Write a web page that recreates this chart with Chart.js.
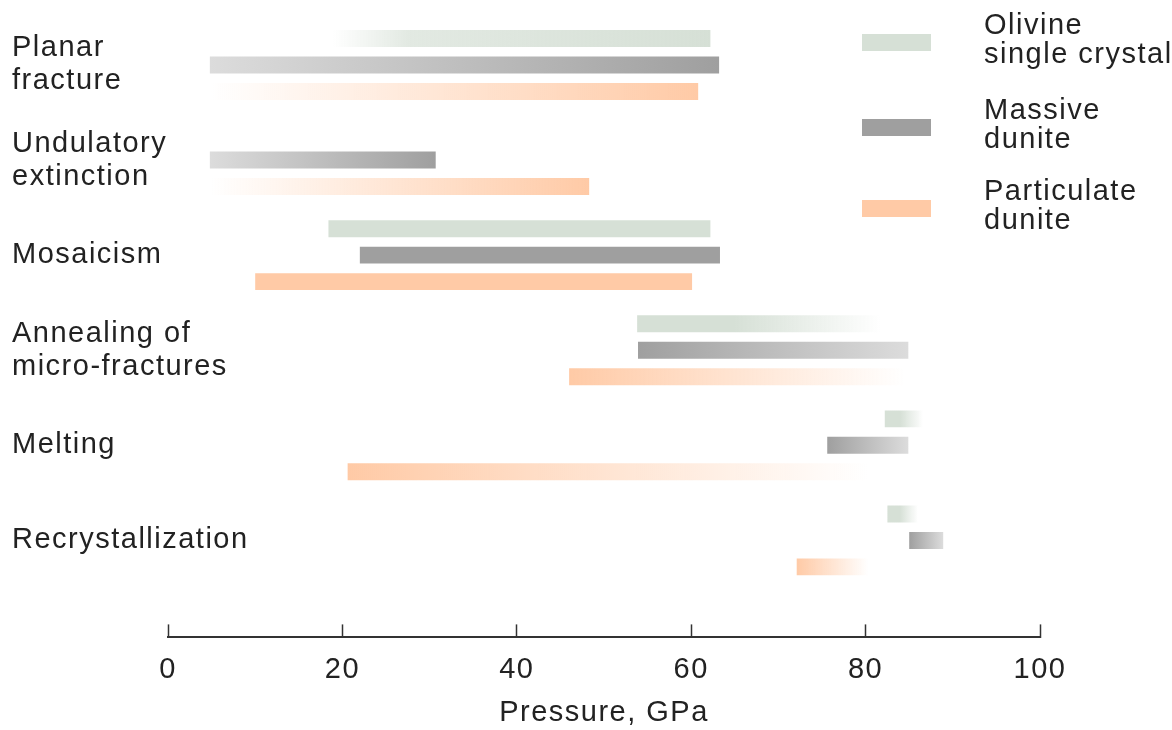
<!DOCTYPE html>
<html>
<head>
<meta charset="utf-8">
<title>Shock features vs pressure</title>
<script src="https://cdn.jsdelivr.net/npm/chart.js@4/dist/chart.umd.min.js"></script>
<style>
  html, body { margin: 0; padding: 0; background: #fff; overflow: hidden; }
  #wrap { position: relative; width: 1172px; height: 730px; }
  #legend { position: absolute; left: 0; top: 0; }
  .item { position: absolute; left: 862px; }
  .item .box { position: absolute; left: 0; width: 69px; height: 17px; }
  .item .txt {
    position: absolute; left: 122px; white-space: nowrap;
    font: 29px 'Liberation Sans', Arial, sans-serif; line-height: 29px;
    letter-spacing: 1.5px; color: #222;
  }
</style>
</head>
<body>
<div id="wrap">
  <canvas id="chart"></canvas>
  <div id="legend"></div>
</div>
<script>
// categories (top to bottom) and x ticks
const categories = [['Planar', 'fracture'], ['Undulatory', 'extinction'], 'Mosaicism',
  ['Annealing of', 'micro-fractures'], 'Melting', 'Recrystallization'];
const xTicks = [0, 20, 40, 60, 80, 100];

// pressure ranges, GPa  (null = no bar)
const olivine     = [[18.9, 62.2], null,         [18.4, 62.2], [53.8, 81.7], [82.2, 86.6], [82.5, 86.0]];
const massive     = [[4.8, 63.2],  [4.8, 30.7],  [22.0, 63.3], [53.9, 84.9], [75.6, 84.9], [85.0, 88.9]];
const particulate = [[4.8, 60.8],  [4.8, 48.3],  [10.0, 60.1], [46.0, 84.5], [20.6, 80.3], [72.1, 80.3]];

// 1 = gets stronger to the right, -1 = fades out to the right, 0 = flat
const olivineFade     = [1, 0, 0, -1, -1, -1];
const massiveFade     = [1, 1, 0, -1, -1, -1];
const particulateFade = [1, 1, 0, -1, -1, -1];

const seriesNames = [['Olivine', 'single crystal'], ['Massive', 'dunite'], ['Particulate', 'dunite']];

const FONT = "'Liberation Sans', Arial, sans-serif";
const TEXT = '#222';

function toPoints(ranges) {
  return ranges.map((r, i) => r ? { y: i, x: r } : null).filter(p => p);
}

// s.hold: part of a fading bar that keeps the full colour
function barFill(s) {
  return (ctx) => {
    if (ctx.type !== 'data' || !ctx.raw) return s.color;
    const f = s.fades[ctx.raw.y];
    if (!f) return s.color;
    const xs = ctx.chart.scales.x;
    const x0 = xs.getPixelForValue(ctx.raw.x[0]);
    const x1 = xs.getPixelForValue(ctx.raw.x[1]);
    if (!isFinite(x0) || !isFinite(x1) || x0 === x1) return s.color;
    const g = ctx.chart.ctx.createLinearGradient(x0, 0, x1, 0);
    if (f > 0) {
      g.addColorStop(0, s.pale);
      if (s.mid) g.addColorStop(0.2, s.mid);
      g.addColorStop(1, s.color);
    } else {
      g.addColorStop(0, s.color);
      g.addColorStop(s.hold, s.color);
      g.addColorStop(1, s.pale);
    }
    return g;
  };
}

const series = [
  { data: olivine, fades: olivineFade, color: '#d6e0d6', mid: 'rgba(214,224,214,0.7)', pale: 'rgba(214,224,214,0)', hold: 0.4 },
  { data: massive, fades: massiveFade, color: '#9f9f9f', pale: '#dcdcdc', hold: 0 },
  { data: particulate, fades: particulateFade, color: '#ffcaa6', pale: 'rgba(255,202,166,0)', hold: 0 }
];

// spaced-out lettering like the original figure
const spacing = {
  id: 'spacing',
  beforeLayout(chart) { chart.ctx.letterSpacing = '1.5px'; },
  beforeDraw(chart) { chart.ctx.letterSpacing = '1.5px'; }
};

new Chart(document.getElementById('chart'), {
  type: 'bar',
  data: {
    datasets: series.map((s, i) => ({
      label: seriesNames[i].join(' '),
      data: toPoints(s.data),
      backgroundColor: barFill(s),
      borderWidth: 0,
      categoryPercentage: 0.835,
      barPercentage: 0.64
    }))
  },
  options: {
    indexAxis: 'y',
    responsive: true,
    maintainAspectRatio: false,
    animation: false,
    layout: { padding: { left: 12, right: 132, top: 17.4, bottom: 0 } },
    plugins: { legend: { display: false }, tooltip: { enabled: false } },
    scales: {
      x: {
        type: 'linear', min: 0, max: 100, position: 'bottom',
        afterBuildTicks: s => { s.ticks = xTicks.map(v => ({ value: v })); },
        grid: { drawOnChartArea: false, drawTicks: true, tickLength: -13, tickColor: '#333', tickWidth: 1.5 },
        border: { display: true, color: '#333', width: 2 },
        ticks: { padding: 28, color: TEXT, font: { size: 29, family: FONT } },
        title: {
          display: true, text: 'Pressure, GPa', color: TEXT,
          font: { size: 29, family: FONT }, padding: { top: -20, bottom: 0 }
        }
      },
      y: {
        type: 'linear', reverse: true, min: -0.5, max: 6.02, position: 'left', offset: false,
        afterBuildTicks: s => { s.ticks = categories.map((c, i) => ({ value: i })); },
        afterFit: s => { s.width = 156; },
        grid: { display: false },
        border: { display: false },
        ticks: {
          autoSkip: false, mirror: true, padding: -156, color: TEXT,
          font: { size: 29, family: FONT, lineHeight: 1.14 },
          callback: v => categories[v]
        }
      }
    }
  },
  plugins: [spacing]
});

// legend, laid over the top right of the plot
const legendTops = [10, 95, 176];
const legend = document.getElementById('legend');
series.forEach((s, i) => {
  const item = document.createElement('div');
  item.className = 'item';
  item.style.top = legendTops[i] + 'px';
  const box = document.createElement('div');
  box.className = 'box';
  box.style.top = '24px';
  box.style.background = s.color;
  const txt = document.createElement('div');
  txt.className = 'txt';
  txt.innerHTML = seriesNames[i].join('<br>');
  item.appendChild(box);
  item.appendChild(txt);
  legend.appendChild(item);
});
</script>
</body>
</html>
